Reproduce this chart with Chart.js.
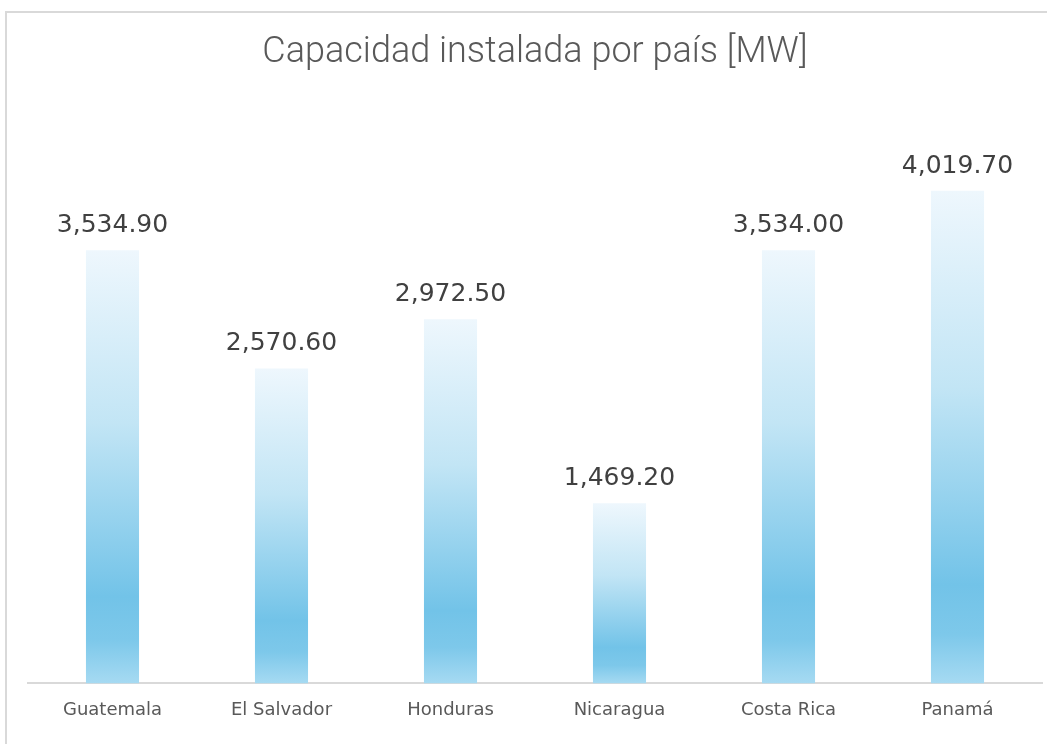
<!DOCTYPE html>
<html>
<head>
<meta charset="utf-8">
<script src="https://cdn.jsdelivr.net/npm/chart.js@4.4.1/dist/chart.umd.min.js"></script>
<style>
  html, body { margin: 0; padding: 0; background: #fff; }
  #wrap { position: relative; width: 1047px; height: 744px; overflow: hidden; }
  #frame { position: absolute; left: 5px; top: 11px; width: 1100px; height: 800px;
           border-top: 2px solid #d9d9d9; border-left: 2px solid #d9d9d9; }
  #chart { position: absolute; left: 0; top: 0; }
</style>
</head>
<body>
<div id="wrap">
  <div id="frame"></div>
  <canvas id="chart" width="1047" height="744"></canvas>
</div>
<script>
  const countries = ['Guatemala', 'El Salvador', 'Honduras', 'Nicaragua', 'Costa Rica', 'Panamá'];
  const capacityMW = [3534.9, 2570.6, 2972.5, 1469.2, 3534.0, 4019.7];
  const chartTitle = 'Capacidad instalada por país [MW]';
  const yMax = 4500;

  // gradiente por barra: claro arriba, más intenso cerca de la base
  function barGradient(ctx) {
    const chart = ctx.chart;
    if (!chart.chartArea || ctx.dataIndex === undefined) return '#9fd5ef';
    const y = chart.scales.y;
    const top = y.getPixelForValue(capacityMW[ctx.dataIndex]);
    const bottom = y.getPixelForValue(0);
    const g = chart.ctx.createLinearGradient(0, top, 0, bottom);
    g.addColorStop(0, '#eef7fd');
    g.addColorStop(0.4, '#c2e5f5');
    g.addColorStop(0.8, '#72c3e8');
    g.addColorStop(0.9, '#7dc8ea');
    g.addColorStop(1, '#a6daf2');
    return g;
  }

  const valueLabels = {
    id: 'valueLabels',
    afterDatasetsDraw(chart) {
      const c = chart.ctx;
      const meta = chart.getDatasetMeta(0);
      c.save();
      c.font = '25px "DejaVu Sans"';
      c.fillStyle = '#404040';
      c.textAlign = 'center';
      c.textBaseline = 'alphabetic';
      meta.data.forEach((bar, i) => {
        const txt = capacityMW[i].toLocaleString('en-US', { minimumFractionDigits: 2, maximumFractionDigits: 2 });
        c.fillText(txt, bar.x, bar.y - 18);
      });
      c.restore();
    }
  };

  new Chart(document.getElementById('chart'), {
    type: 'bar',
    data: {
      labels: countries,
      datasets: [{
        data: capacityMW,
        backgroundColor: barGradient,
        borderWidth: 0,
        categoryPercentage: 1,
        barPercentage: 0.314
      }]
    },
    options: {
      responsive: false,
      animation: false,
      layout: { padding: { left: 28, right: 5, top: 0, bottom: 7 } },
      plugins: {
        legend: { display: false },
        tooltip: { enabled: false },
        title: {
          display: true,
          text: chartTitle,
          color: '#595959',
          font: { family: 'Roboto', size: 36, weight: 300, lineHeight: 1.2 },
          padding: { top: 31, bottom: 57.8 }
        }
      },
      scales: {
        x: {
          grid: { display: false, drawTicks: false },
          border: { color: '#d9d9d9', width: 2 },
          ticks: { color: '#595959', font: { family: 'DejaVu Sans', size: 18 }, padding: 16 }
        },
        y: {
          display: false,
          min: 0,
          max: yMax
        }
      }
    },
    plugins: [valueLabels]
  });
</script>
</body>
</html>
